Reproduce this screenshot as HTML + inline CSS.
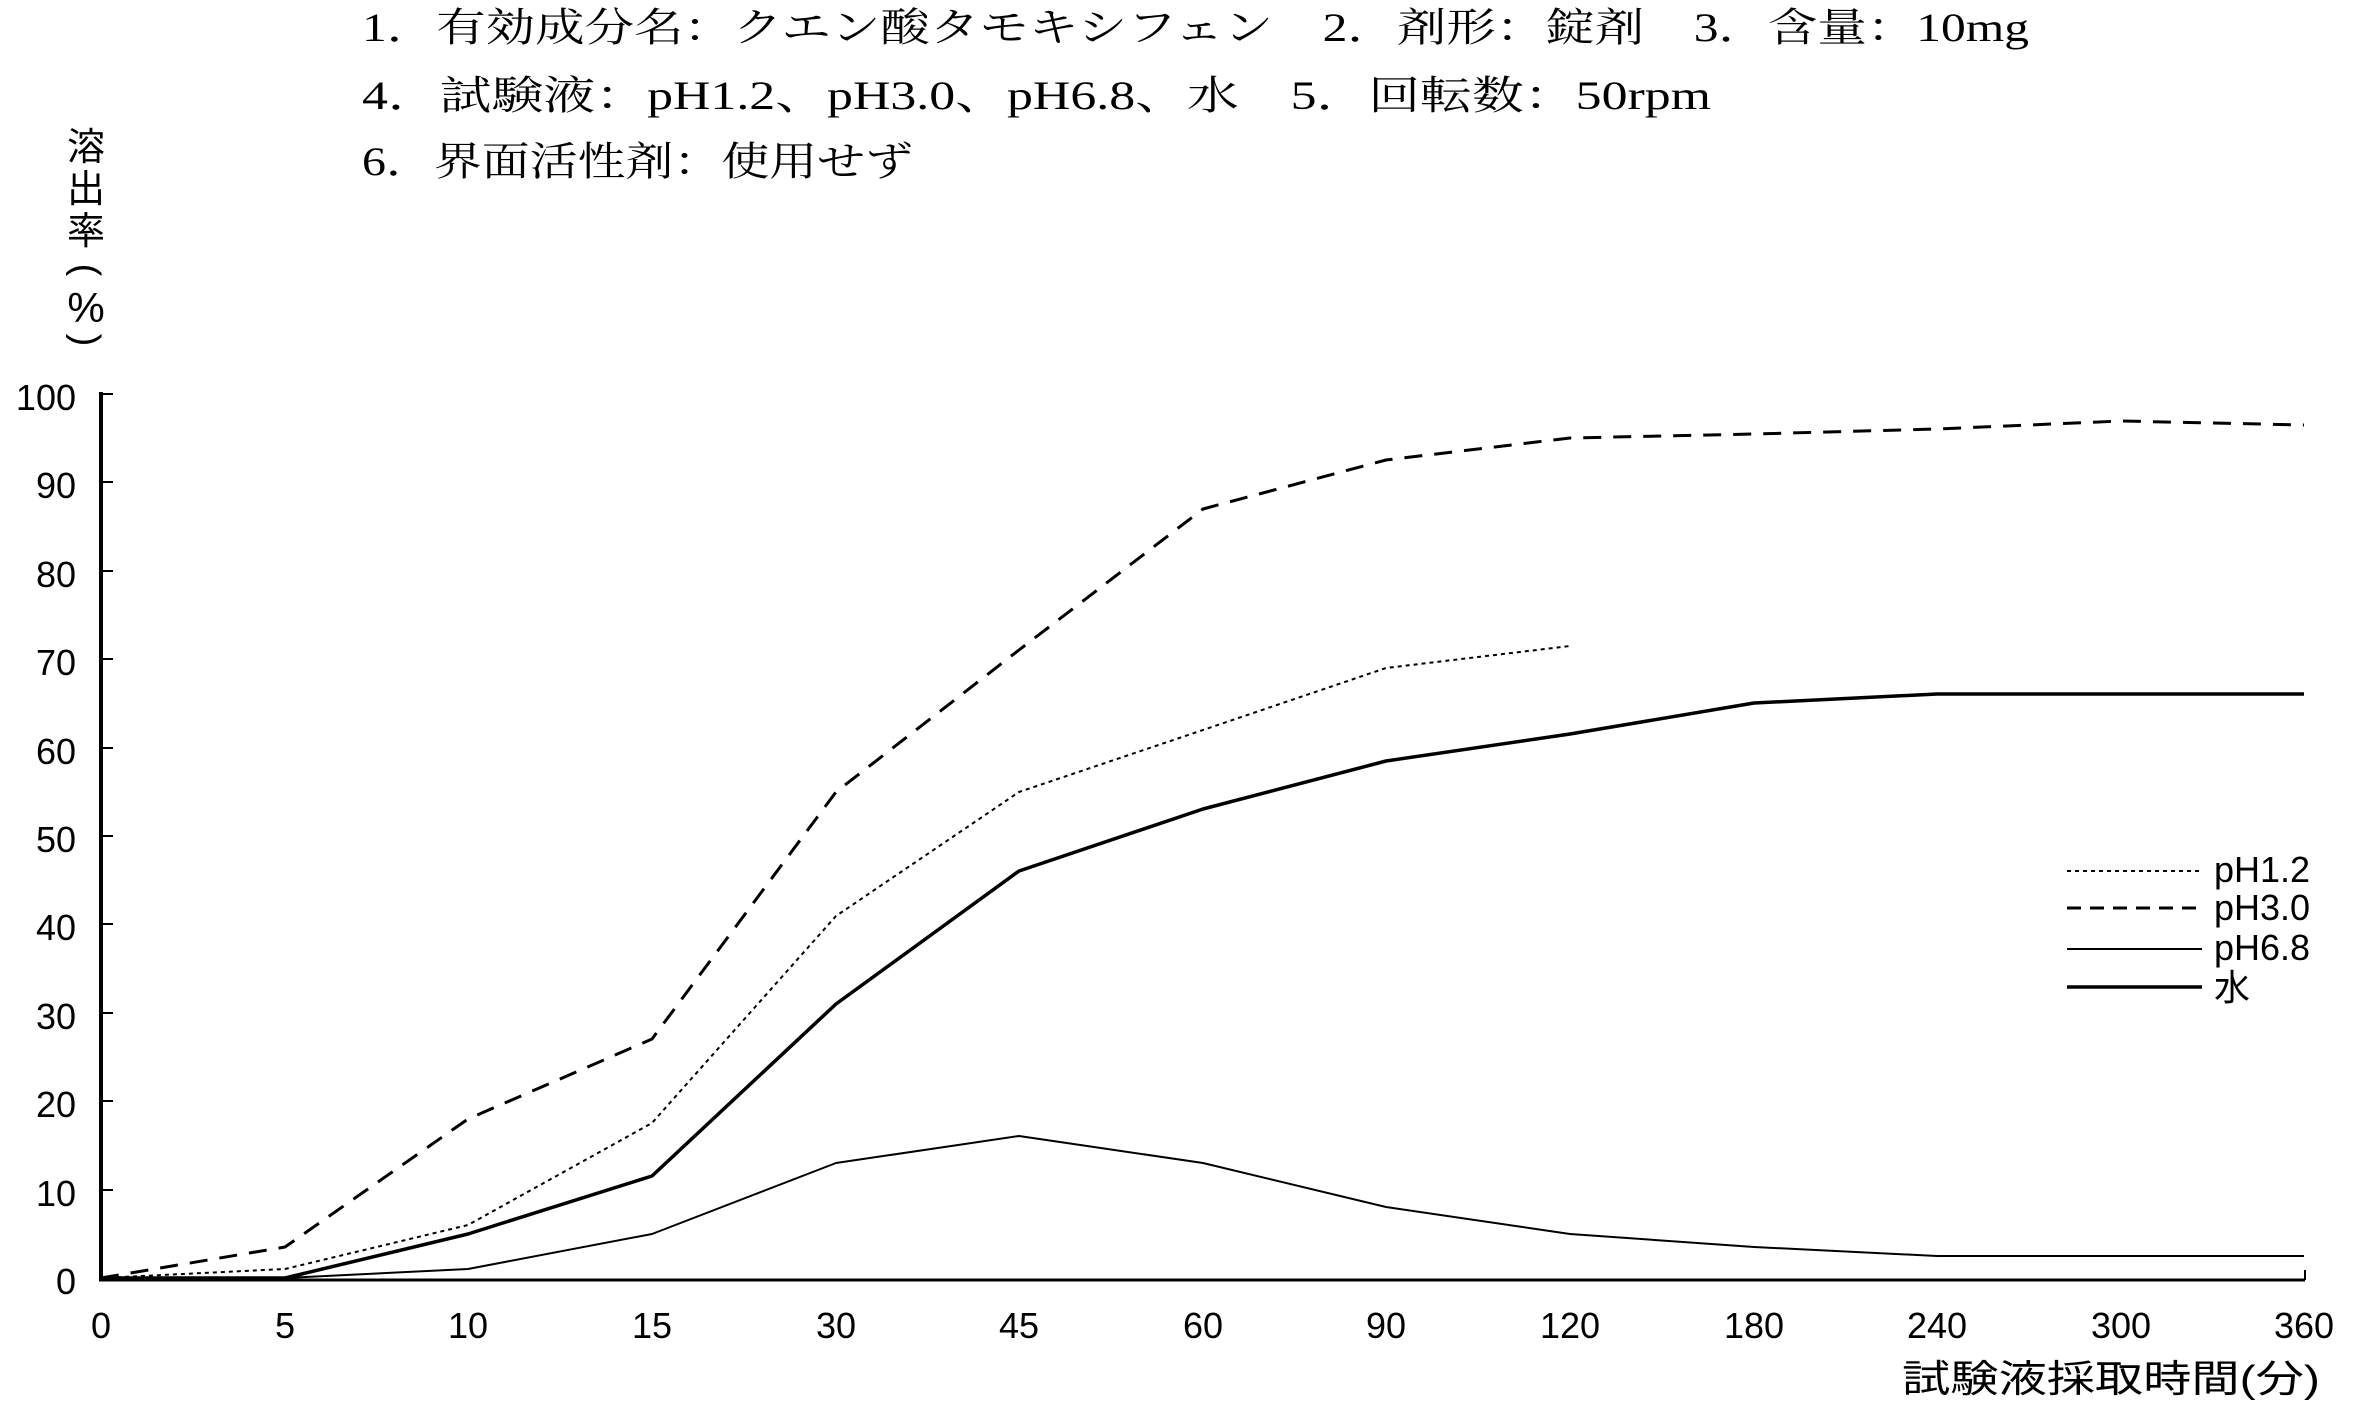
<!DOCTYPE html>
<html><head><meta charset="utf-8"><style>
html,body{margin:0;padding:0;background:#fff;}
svg{display:block;}
.h{font-family:"Liberation Serif","Noto Serif CJK SC",serif;font-size:40px;fill:#000;}
.t{font-family:"Liberation Sans","Noto Sans CJK JP",sans-serif;font-size:36px;fill:#000;}
.j{font-family:"Liberation Sans","Noto Sans CJK JP",sans-serif;font-size:38px;fill:#000;}
</style></head><body>
<svg width="2362" height="1417" viewBox="0 0 2362 1417" xmlns="http://www.w3.org/2000/svg">
<text class="h" x="362" y="41" textLength="1667" lengthAdjust="spacingAndGlyphs">1．有効成分名：クエン酸タモキシフェン　2．剤形：錠剤　3．含量：10mg</text>
<text class="h" x="362" y="109" textLength="1349" lengthAdjust="spacingAndGlyphs">4．試験液：pH1.2、pH3.0、pH6.8、水　5．回転数：50rpm</text>
<text class="h" x="362" y="175" textLength="551" lengthAdjust="spacingAndGlyphs">6．界面活性剤：使用せず</text>
<g class="j" text-anchor="middle">
<text x="86" y="160">溶</text>
<text x="86" y="202">出</text>
<text x="86" y="244">率</text>
<text transform="translate(86,270) rotate(90)" y="12" font-size="38">(</text>
<text x="86" y="322" font-size="42">%</text>
<text transform="translate(86,340) rotate(90)" y="12" font-size="38">)</text>
</g>

<g stroke="#000" fill="none">
<line x1="101" y1="392" x2="101" y2="1281" stroke-width="4"/>
<line x1="99" y1="1280" x2="2305" y2="1280" stroke-width="3"/>
<g stroke-width="2">
<line x1="101" y1="394" x2="113" y2="394"/><line x1="101" y1="482" x2="113" y2="482"/><line x1="101" y1="571" x2="113" y2="571"/><line x1="101" y1="659" x2="113" y2="659"/><line x1="101" y1="748" x2="113" y2="748"/><line x1="101" y1="836" x2="113" y2="836"/><line x1="101" y1="924" x2="113" y2="924"/><line x1="101" y1="1013" x2="113" y2="1013"/><line x1="101" y1="1101" x2="113" y2="1101"/><line x1="101" y1="1190" x2="113" y2="1190"/>
<line x1="2305" y1="1270" x2="2305" y2="1280"/>
</g>
</g>
<g class="t" text-anchor="end">
<text x="76" y="410">100</text><text x="76" y="498">90</text><text x="76" y="587">80</text><text x="76" y="675">70</text><text x="76" y="764">60</text><text x="76" y="852">50</text><text x="76" y="940">40</text><text x="76" y="1029">30</text><text x="76" y="1117">20</text><text x="76" y="1206">10</text><text x="76" y="1294">0</text>
</g>
<g class="t" text-anchor="middle">
<text x="101" y="1338">0</text><text x="285" y="1338">5</text><text x="468" y="1338">10</text><text x="652" y="1338">15</text><text x="836" y="1338">30</text><text x="1019" y="1338">45</text><text x="1203" y="1338">60</text><text x="1386" y="1338">90</text><text x="1570" y="1338">120</text><text x="1754" y="1338">180</text><text x="1937" y="1338">240</text><text x="2121" y="1338">300</text><text x="2304" y="1338">360</text>
</g>
<text class="j" x="1902" y="1392" textLength="418" lengthAdjust="spacingAndGlyphs">試験液採取時間(分)</text>

<g fill="none" stroke="#000" stroke-linejoin="round">
<polyline stroke-width="3" stroke-dasharray="18,12" points="101,1278 285,1247 468,1119 652,1039 836,792 1019,650 1203,509 1386,460 1570,438 1754,434 1937,429 2121,421 2304,425"/>
<polyline stroke-width="2" stroke-dasharray="4,4" points="101,1278 285,1269 468,1225 652,1123 836,916 1019,792 1203,730 1386,668 1570,646"/>
<polyline stroke-width="3.5" points="101,1278 285,1278 468,1234 652,1176 836,1004 1019,871 1203,809 1386,761 1570,734 1754,703 1937,694 2121,694 2304,694"/>
<polyline stroke-width="2" points="101,1278 285,1278 468,1269 652,1234 836,1163 1019,1136 1203,1163 1386,1207 1570,1234 1754,1247 1937,1256 2121,1256 2304,1256"/>
<line x1="2067" y1="871" x2="2202" y2="871" stroke-width="2" stroke-dasharray="4,4"/>
<line x1="2067" y1="908" x2="2202" y2="908" stroke-width="3" stroke-dasharray="14,9"/>
<line x1="2067" y1="949" x2="2202" y2="949" stroke-width="2"/>
<line x1="2067" y1="987" x2="2202" y2="987" stroke-width="3.5"/>
</g>
<g class="t">
<text x="2214" y="882">pH1.2</text>
<text x="2214" y="920">pH3.0</text>
<text x="2214" y="960">pH6.8</text>
<text x="2214" y="1000">水</text>
</g>
</svg>
</body></html>
